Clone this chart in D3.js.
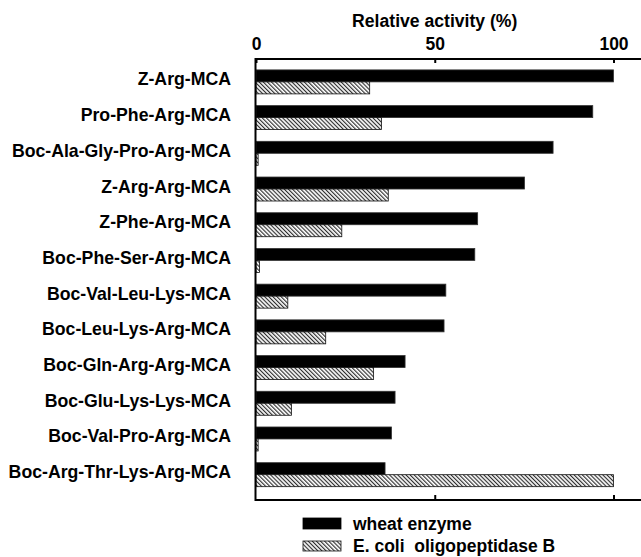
<!DOCTYPE html>
<html>
<head>
<meta charset="utf-8">
<script src="https://cdn.jsdelivr.net/npm/d3@7"></script>
<style>
  html, body { margin: 0; padding: 0; background: #fff; }
  svg { display: block; }
  text { font-family: "Liberation Sans", Arial, Helvetica, sans-serif; font-weight: bold; fill: #000; }
</style>
</head>
<body>
<svg id="chart" width="641" height="557"></svg>
<script>
const categories = [
  "Z-Arg-MCA",
  "Pro-Phe-Arg-MCA",
  "Boc-Ala-Gly-Pro-Arg-MCA",
  "Z-Arg-Arg-MCA",
  "Z-Phe-Arg-MCA",
  "Boc-Phe-Ser-Arg-MCA",
  "Boc-Val-Leu-Lys-MCA",
  "Boc-Leu-Lys-Arg-MCA",
  "Boc-Gln-Arg-Arg-MCA",
  "Boc-Glu-Lys-Lys-MCA",
  "Boc-Val-Pro-Arg-MCA",
  "Boc-Arg-Thr-Lys-Arg-MCA"
];
const wheatEnzyme = [100, 94.2, 83.1, 75.1, 62.0, 61.2, 53.1, 52.6, 41.7, 38.9, 37.9, 36.1];
const ecoliOligopeptidaseB = [31.8, 35.1, 0.6, 37.0, 24.0, 1.0, 8.9, 19.5, 32.9, 9.9, 0.6, 100];
const seriesNames = ["wheat enzyme", "E. coli  oligopeptidase B"];
const xTicks = [0, 50, 100];
const axisTitle = "Relative activity (%)";

(function () {
const svg = d3.select("#chart");

// hatch pattern
const defs = svg.append("defs");
const pat = defs.append("pattern")
  .attr("id", "hatch")
  .attr("patternUnits", "userSpaceOnUse")
  .attr("width", 2.9)
  .attr("height", 2.9)
  .attr("patternTransform", "rotate(-45)");
pat.append("rect").attr("width", 2.9).attr("height", 2.9).attr("fill", "#fff");
pat.append("line")
  .attr("x1", 0.6).attr("y1", 0).attr("x2", 0.6).attr("y2", 2.9)
  .attr("stroke", "#222").attr("stroke-width", 1.1);

const pLeft = 256, pRight = 613.5, pTop = 59, pBottom = 500;

const x = d3.scaleLinear().domain([0, 100]).range([pLeft, pRight]);
const y = d3.scaleBand().domain(categories).range([pTop, pBottom])
  .paddingInner(0.328).paddingOuter(0.339).align(0.45);
const ySub = d3.scaleBand().domain(seriesNames).range([0, y.bandwidth()]);

const rows = categories.map((c, i) => ({ cat: c, vals: [wheatEnzyme[i], ecoliOligopeptidaseB[i]] }));

// bars
const g = svg.append("g");
rows.forEach(r => {
  r.vals.forEach((v, j) => {
    g.append("rect")
      .attr("x", x(0))
      .attr("y", y(r.cat) + ySub(seriesNames[j]))
      .attr("width", x(v) - x(0))
      .attr("height", ySub.bandwidth())
      .attr("fill", j === 0 ? "#000" : "url(#hatch)")
      .attr("stroke", j === 0 ? "#333" : "#111")
      .attr("stroke-width", 0.8);
  });
});

// frame
svg.append("path")
  .attr("d", `M ${646} ${pTop} H ${pLeft - 0.5} V ${pBottom} H ${646}`)
  .attr("fill", "none").attr("stroke", "#000").attr("stroke-width", 2);

// top axis
const topAxis = svg.append("g")
  .attr("transform", `translate(0,${pTop})`)
  .call(d3.axisTop(x).tickValues(xTicks).tickSize(-4).tickSizeOuter(0).tickPadding(9).tickFormat(d3.format("d")));
topAxis.select(".domain").remove();
topAxis.selectAll(".tick line").attr("stroke", "#000").attr("stroke-width", 2);
topAxis.selectAll(".tick text")
  .style("font-size", "17.5px").style("font-family", '"Liberation Sans", Arial, sans-serif')
  .style("font-weight", "bold").attr("fill", "#000");

// bottom axis
const botAxis = svg.append("g")
  .attr("transform", `translate(0,${pBottom})`)
  .call(d3.axisBottom(x).tickValues(xTicks.filter(d => d > 0)).tickSize(-5).tickSizeOuter(0).tickFormat(""));
botAxis.select(".domain").remove();
botAxis.selectAll(".tick line").attr("stroke", "#000").attr("stroke-width", 2);

// title
svg.append("text")
  .attr("x", x(50)).attr("y", 27)
  .attr("text-anchor", "middle")
  .style("font-size", "17.6px")
  .text(axisTitle);

// category labels
svg.append("g").selectAll("text")
  .data(categories)
  .join("text")
  .attr("x", 231)
  .attr("y", d => y(d) + y.bandwidth() / 2 - 2.5)
  .attr("text-anchor", "end")
  .attr("dominant-baseline", "central")
  .style("font-size", "17.7px")
  .text(d => d);

// legend
const legend = svg.append("g");
const legY = [518, 541];
const legH = [11, 10];
seriesNames.forEach((name, j) => {
  legend.append("rect")
    .attr("x", 303).attr("y", legY[j])
    .attr("width", 38).attr("height", legH[j])
    .attr("fill", j === 0 ? "#000" : "url(#hatch)")
    .attr("stroke", j === 0 ? "#000" : "#111")
    .attr("stroke-width", 0.8);
  legend.append("text")
    .attr("x", 353).attr("y", legY[j] + legH[j] / 2)
    .attr("dominant-baseline", "central")
    .style("font-size", "17.5px")
    .style("white-space", "pre")
    .text(name);
});
})();
</script>
</body>
</html>
